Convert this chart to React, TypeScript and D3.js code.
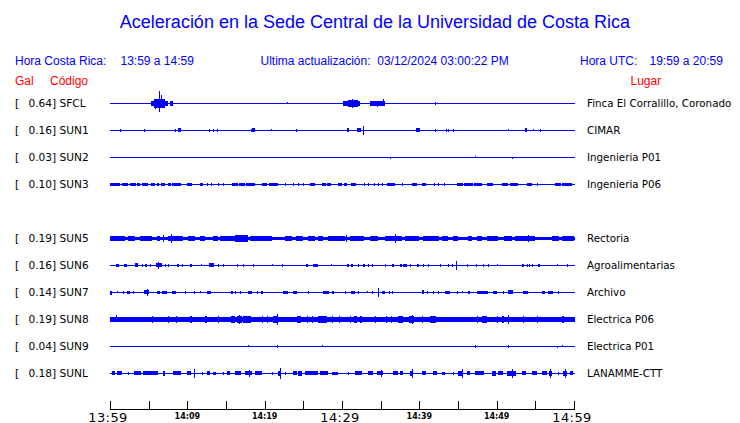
import React from "react";
import * as d3 from "d3";

// ---- data ----
const slots = ["SFCL", "SUN1", "SUN2", "SUN3", "SUN4", "SUN5", "SUN6", "SUN7", "SUN8", "SUN9", "SUNL"];
const codes = ["SFCL", "SUN1", "SUN2", "SUN3", "SUN5", "SUN6", "SUN7", "SUN8", "SUN9", "SUNL"];
const peakGal = [0.64, 0.16, 0.03, 0.1, 0.19, 0.16, 0.14, 0.19, 0.04, 0.18];
const places = [
  "Finca El Corralillo, Coronado",
  "CIMAR",
  "Ingenieria P01",
  "Ingenieria P06",
  "Rectoria",
  "Agroalimentarias",
  "Archivo",
  "Electrica P06",
  "Electrica P01",
  "LANAMME-CTT",
];
// background noise half-amplitude (fraction of trace full scale)
const noiseLevel = [0, 0, 0, 0, 0.1, 0, 0, 0.17, 0, 0];

const tickMinutes = [0, 5, 10, 15, 20, 25, 30, 35, 40, 45, 50, 55, 60];
const labelMinutes = [0, 10, 20, 30, 40, 50, 60];
const labelTexts = ["13:59", "14:09", "14:19", "14:29", "14:39", "14:49", "14:59"];
const bigLabels = ["13:59", "14:29", "14:59"];

// events: [start minute, end minute, up amplitude, down amplitude]
const sfclEvents = [
  [5.3, 5.65, 0.14], [5.65, 7.11, 0.33], [5.86, 5.95, 0.33, 0.42], [6.38, 6.45, 1.0, 0.7],
  [6.59, 6.66, 0.64, 0.33], [7.11, 7.54, 0.13], [7.8, 8.15, 0.17], [22.93, 23.0, 0.08, 0],
  [30.13, 32.37, 0.2], [30.82, 32.11, 0.28], [31.25, 31.35, 0.36], [33.62, 35.56, 0.15],
  [34.57, 34.65, 0.2, 0.28], [35.34, 35.42, 0.36, 0.13], [42.07, 42.14, 0.12],
];
const sun1Events = [
  [1.33, 1.43, 0.08], [4.44, 4.54, 0.08], [8.44, 8.54, 0.08], [8.8, 9.15, 0.17, 0.08], [12.84, 12.94, 0.08],
  [13.36, 13.46, 0.08], [13.87, 13.97, 0.08], [18.19, 18.29, 0.08], [18.4, 18.75, 0.17, 0.08], [20.78, 20.88, 0.08, 0],
  [24.01, 24.11, 0.08], [30.6, 30.95, 0.17, 0.08], [32.0, 32.4, 0.17, 0.08], [32.75, 32.85, 0.3], [39.6, 40.1, 0.17, 0.08],
  [42.03, 42.13, 0.08], [43.49, 43.59, 0.08], [43.75, 43.85, 0.08], [44.39, 44.49, 0.08], [51.5, 51.6, 0.08, 0],
  [53.6, 53.95, 0.17, 0.08], [54.74, 54.84, 0.08, 0], [55.64, 55.74, 0.08],
];
const sun2Events = [[36.25, 36.35, 0, 0.08], [47.24, 47.34, 0.08, 0], [52.02, 52.12, 0, 0.08]];
const sun3Events = [
  [0, 1.29, 0.08], [1.51, 2.28, 0.08], [2.58, 3.32, 0.08], [3.53, 3.88, 0.08], [4.09, 4.87, 0.08],
  [5.26, 5.82, 0.08], [6.03, 6.33, 0.08], [6.59, 7.11, 0.08], [7.54, 7.84, 0.08], [7.97, 9.18, 0.08],
  [9.91, 10.56, 0.08], [11.64, 12.07, 0.08], [12.6, 12.7, 0.08], [13.1, 13.2, 0.08], [14.0, 14.1, 0.08],
  [14.6, 14.7, 0.08], [15.73, 16.5, 0.08], [16.7, 17.4, 0.08], [17.6, 18.75, 0.08], [19.61, 20.3, 0.08],
  [20.5, 21.77, 0.08], [22.6, 22.7, 0.08], [23.7, 23.8, 0.08], [24.3, 24.4, 0.08], [25.0, 25.1, 0.08],
  [25.9, 26.5, 0.08], [27.4, 27.9, 0.08], [28.1, 28.6, 0.08], [29.5, 30.0, 0.08], [30.2, 30.6, 0.08],
  [31.2, 31.8, 0.08], [32.8, 32.9, 0.08], [33.4, 33.5, 0.08], [34.1, 34.2, 0.08], [34.6, 34.7, 0.08],
  [35.2, 35.3, 0.08], [35.78, 36.85, 0.08], [37.8, 37.9, 0.08], [39.0, 39.7, 0.08], [40.3, 40.9, 0.08],
  [41.9, 42.0, 0.08], [42.4, 42.5, 0.08], [43.2, 43.3, 0.08], [44.83, 45.6, 0.08], [45.8, 46.9, 0.08],
  [47.1, 48.06, 0.08], [48.71, 49.57, 0.08], [50.65, 51.5, 0.08], [51.7, 52.8, 0.08], [53.88, 54.53, 0.08],
  [55.2, 55.3, 0.08], [57.54, 58.3, 0.08], [58.5, 59.7, 0.08],
];
const sun5Events = [
  [0, 1.94, 0.2], [2.37, 3.23, 0.2], [3.88, 5.38, 0.2], [6.03, 6.46, 0.2], [6.89, 6.99, 0.25],
  [7.54, 9.48, 0.2], [7.84, 7.94, 0.3], [10.13, 10.99, 0.2], [11.63, 12.28, 0.2], [13.36, 14.0, 0.2],
  [14.22, 16.16, 0.2], [16.16, 17.88, 0.22], [18.1, 20.9, 0.2], [22.6, 23.5, 0.2], [24.1, 25.0, 0.2],
  [25.6, 26.5, 0.2], [26.9, 27.6, 0.2], [28.2, 30.4, 0.2], [30.5, 30.6, 0.26], [31.0, 32.8, 0.2],
  [33.6, 34.7, 0.2], [35.6, 37.7, 0.2], [36.85, 36.95, 0.34], [38.1, 39.9, 0.2], [40.5, 42.5, 0.2],
  [42.9, 43.7, 0.2], [44.4, 45.0, 0.2], [46.3, 46.8, 0.2], [47.4, 48.1, 0.2], [48.7, 50.2, 0.2],
  [50.9, 52.0, 0.2], [52.4, 55.0, 0.2], [54.1, 54.2, 0.28], [57.1, 58.0, 0.2], [58.4, 60, 0.2],
];
const sun6Events = [
  [0.77, 1.15, 0.08], [1.81, 2.15, 0.08], [3.23, 3.6, 0.17, 0.08], [4.09, 4.19, 0.08], [4.52, 4.75, 0.08],
  [5.17, 5.27, 0.08], [5.94, 6.68, 0.17, 0.08], [6.2, 6.3, 0.25], [7.11, 7.21, 0.08], [7.54, 7.64, 0.08],
  [8.7, 8.95, 0.08], [9.26, 9.4, 0.08], [10.34, 10.6, 0.08], [11.76, 11.86, 0.08, 0], [12.84, 13.44, 0.17, 0.08],
  [13.92, 14.02, 0.08], [14.65, 14.75, 0.08], [16.37, 16.47, 0.08], [17.24, 17.34, 0.08], [18.44, 18.54, 0.08],
  [20.9, 21.0, 0.08, 0], [22.28, 22.38, 0.08], [25.34, 25.65, 0.08], [26.29, 26.85, 0.08], [28.53, 28.63, 0.08, 0],
  [30.6, 30.9, 0.08], [31.1, 31.46, 0.08], [32.11, 32.21, 0.08], [32.75, 33.0, 0.08], [33.3, 33.4, 0.08],
  [33.83, 33.93, 0.08], [35.55, 35.65, 0.08], [36.5, 36.75, 0.08], [37.49, 37.7, 0.08], [37.9, 38.36, 0.08],
  [38.79, 38.89, 0.08], [39.74, 40.0, 0.08], [40.51, 40.61, 0.08], [41.16, 41.26, 0.08], [42.67, 42.77, 0.08],
  [43.74, 43.84, 0.08], [44.17, 44.27, 0.08], [44.7, 44.85, 0.33], [46.2, 46.3, 0.08], [47.28, 47.38, 0.08],
  [48.27, 48.37, 0.08], [48.92, 49.02, 0.08], [50.0, 50.1, 0.08, 0], [53.23, 53.5, 0.08], [53.87, 54.0, 0.08],
  [54.2, 54.3, 0.08], [54.52, 54.62, 0.08], [55.29, 55.6, 0.08], [57.75, 57.85, 0.08, 0], [59.05, 59.15, 0.08],
];
const sun7Events = [
  [0, 0.3, 0.08, 0.17], [0.86, 0.96, 0.08, 0], [1.72, 1.82, 0.08], [2.24, 2.58, 0.08], [2.93, 3.03, 0.08],
  [4.44, 5.08, 0.17, 0.08], [4.75, 4.85, 0.25], [6.03, 6.46, 0.08], [6.76, 7.32, 0.08], [7.97, 8.49, 0.08],
  [9.69, 9.79, 0.08], [10.86, 10.96, 0.08], [11.63, 11.73, 0.08, 0], [12.5, 13.01, 0.08], [15.6, 15.94, 0.08],
  [16.16, 16.26, 0.08], [16.81, 16.91, 0.08], [17.88, 18.31, 0.08], [18.96, 19.06, 0.08], [19.48, 19.82, 0.08],
  [22.41, 22.97, 0.08], [23.7, 24.13, 0.08], [25.64, 25.74, 0.08], [27.58, 28.31, 0.08], [28.66, 29.0, 0.08],
  [30.38, 30.48, 0.08], [31.16, 31.68, 0.08], [32.11, 32.21, 0.08], [33.19, 33.29, 0.08, 0], [33.83, 33.93, 0.08],
  [34.61, 34.71, 0.3], [35.12, 35.55, 0.08], [36.12, 36.22, 0.08], [36.5, 36.6, 0.08], [40.3, 40.64, 0.17, 0.08],
  [40.94, 41.16, 0.08], [41.8, 41.9, 0.08], [42.45, 42.55, 0.08], [43.31, 43.96, 0.08], [44.82, 45.04, 0.08],
  [45.47, 45.57, 0.08, 0], [46.33, 46.55, 0.08], [47.41, 48.92, 0.08], [49.56, 50.0, 0.08], [50.86, 50.96, 0.08],
  [51.5, 52.15, 0.17, 0.08], [53.44, 54.09, 0.08], [55.8, 56.24, 0.08], [56.67, 57.32, 0.08], [57.88, 57.98, 0.08],
];
const sun8Events = [
  [0.73, 0.83, 0.3, 0.17], [5.47, 5.57, 0.25], [7.54, 7.64, 0.25], [8.53, 8.63, 0.25], [10.34, 10.64, 0.25],
  [12.28, 12.5, 0.25], [14.0, 14.1, 0.25], [15.64, 16.16, 0.25], [16.37, 17.02, 0.25], [16.72, 16.82, 0.36],
  [17.24, 18.23, 0.25], [19.69, 19.79, 0.25], [20.34, 20.44, 0.25], [21.12, 21.76, 0.25], [21.63, 21.73, 0.38],
  [24.13, 24.69, 0.25], [25.43, 25.53, 0.25], [26.16, 26.26, 0.25], [26.94, 28.01, 0.25], [28.75, 28.85, 0.25],
  [29.65, 29.75, 0.25], [31.03, 31.13, 0.25], [31.59, 31.98, 0.25], [32.32, 32.62, 0.25], [34.26, 34.36, 0.25],
  [35.64, 35.74, 0.25], [36.29, 36.39, 0.25], [37.28, 37.93, 0.25], [38.66, 39.35, 0.25], [39.09, 39.19, 0.36],
  [40.3, 40.4, 0.25], [41.37, 42.11, 0.25], [47.5, 47.6, 0.25], [48.06, 48.79, 0.25], [50.0, 50.1, 0.25],
  [50.64, 50.94, 0.25], [51.5, 51.6, 0.3], [53.36, 53.46, 0.25], [55.25, 55.35, 0.25], [58.48, 58.74, 0.25],
];
const sun9Events = [
  [17.8, 17.9, 0.08, 0], [21.63, 21.73, 0.08], [27.45, 27.55, 0.08, 0], [47.24, 47.34, 0.08],
  [51.5, 51.6, 0.08], [57.8, 57.9, 0, 0.08], [58.48, 58.58, 0.08, 0],
];
const sunlEvents = [
  [0.3, 0.64, 0.17, 0.08], [0.86, 1.51, 0.17, 0.08], [2.28, 2.38, 0.08], [3.14, 4.0, 0.17, 0.08], [4.31, 6.25, 0.17, 0.08],
  [6.89, 7.11, 0.17], [8.19, 9.18, 0.17, 0.08], [9.91, 10.47, 0.17, 0.08], [10.9, 11.0, 0.33], [11.85, 11.95, 0.08],
  [12.58, 12.93, 0.17, 0.08], [13.36, 13.7, 0.08], [14.65, 14.75, 0.08], [15.08, 15.51, 0.17, 0.08], [16.16, 16.94, 0.17, 0.08],
  [17.45, 18.31, 0.17, 0.08], [18.01, 18.11, 0.28], [18.75, 19.61, 0.17, 0.08], [20.9, 21.0, 0.08], [21.76, 22.11, 0.17],
  [21.98, 22.08, 0.38], [22.62, 22.72, 0.08], [23.7, 24.13, 0.17, 0.08], [24.35, 24.87, 0.17], [25.21, 26.94, 0.17, 0.08],
  [27.15, 28.14, 0.17, 0.08], [28.66, 29.52, 0.08], [30.81, 30.91, 0.08], [31.68, 32.54, 0.17, 0.08], [33.4, 34.05, 0.17, 0.08],
  [34.48, 35.34, 0.17, 0.08], [35.04, 35.14, 0.26], [36.63, 37.19, 0.17, 0.08], [37.49, 37.92, 0.17, 0.08], [38.79, 39.22, 0.17],
  [39.0, 39.1, 0.3], [40.3, 40.81, 0.17, 0.08], [41.8, 42.24, 0.17, 0.08], [42.88, 43.31, 0.08], [44.39, 44.49, 0.08],
  [45.04, 45.68, 0.17], [45.56, 45.66, 0.33], [46.11, 46.55, 0.17, 0.08], [47.19, 48.4, 0.17, 0.08], [49.35, 49.87, 0.17],
  [50.21, 50.86, 0.17, 0.08], [51.29, 52.45, 0.17], [51.93, 52.03, 0.33], [53.23, 53.74, 0.17, 0.08], [54.52, 55.16, 0.17, 0.08],
  [55.81, 56.46, 0.17, 0.08], [56.8, 57.11, 0.17], [56.95, 57.05, 0.33], [57.97, 58.07, 0.08], [58.62, 59.05, 0.17],
  [58.8, 58.9, 0.33], [59.48, 59.91, 0.17, 0.08],
];
const stationEvents = [
  sfclEvents, sun1Events, sun2Events, sun3Events, sun5Events,
  sun6Events, sun7Events, sun8Events, sun9Events, sunlEvents,
];

// ---- chart ----
const W = 740;
const H = 423;
const BLUE = "#0000ff";
const RED = "#ff0000";
const SANS = "'Liberation Sans', Arial, sans-serif";
const LABEL = "'DejaVu Sans', sans-serif";

export default function App() {
  const x = d3.scaleLinear().domain([0, 60]).range([110, 574]);
  const y = d3.scalePoint<string>().domain(slots).range([103, 373]);
  const amp = d3.scaleLinear().domain([0, 1]).range([0, 12]);
  const axisY = 409;

  return (
    <svg
      width={W}
      height={H}
      style={{ position: "absolute", left: 0, top: 0, background: "#fff" }}
      shapeRendering="crispEdges"
    >
      <rect x={0} y={0} width={W} height={H} fill="#fff" />
      <text x={375} y={28} textAnchor="middle" fill={BLUE} fontFamily={SANS} fontSize={18}>
        Aceleración en la Sede Central de la Universidad de Costa Rica
      </text>
      <g fontFamily={SANS} fontSize={12} fill={BLUE}>
        <text x={15} y={65}>Hora Costa Rica:</text>
        <text x={120.5} y={65}>13:59 a 14:59</text>
        <text x={260.5} y={65} style={{ whiteSpace: "pre" }}>
          {"Ultima actualización:  03/12/2024 03:00:22 PM"}
        </text>
        <text x={580} y={65}>Hora UTC:</text>
        <text x={649.5} y={65}>19:59 a 20:59</text>
      </g>
      <g fontFamily={SANS} fontSize={12} fill={RED}>
        <text x={15} y={85}>Gal</text>
        <text x={50} y={85}>Código</text>
        <text x={630.5} y={85}>Lugar</text>
      </g>

      {codes.map((code, i) => {
        const base = Math.round(y(code) as number);
        const noise = Math.round(amp(noiseLevel[i]));
        return (
          <g key={code}>
            <text x={15} y={base + 4} fontFamily={LABEL} fontSize={10.6} fill="#000">[</text>
            <text x={52} y={base + 4} textAnchor="end" fontFamily={LABEL} fontSize={10.6} fill="#000">
              {peakGal[i].toFixed(2)}
            </text>
            <text x={52} y={base + 4} fontFamily={LABEL} fontSize={10.6} fill="#000" style={{ whiteSpace: "pre" }}>
              {"] " + code}
            </text>
            <text x={587} y={base + 4} fontFamily={LABEL} fontSize={10.3} fill="#000">
              {places[i]}
            </text>
            <rect
              x={Math.round(x(0))}
              y={base - noise}
              width={Math.round(x(60)) - Math.round(x(0)) + 1}
              height={noise * 2 + 1}
              fill={BLUE}
            />
            {stationEvents[i].map((e, j) => {
              const x0 = Math.round(x(e[0]));
              const x1 = Math.max(x0 + 1, Math.round(x(e[1])));
              const up = Math.round(amp(e[2]));
              const down = Math.round(amp(e.length > 3 ? e[3] : e[2]));
              return (
                <rect key={j} x={x0} y={base - up} width={x1 - x0} height={up + down + 1} fill={BLUE} />
              );
            })}
          </g>
        );
      })}

      <g>
        <line x1={x(0)} x2={x(60) + 1} y1={axisY + 0.5} y2={axisY + 0.5} stroke="#000" />
        {tickMinutes.map((m) => (
          <line
            key={m}
            x1={Math.round(x(m)) + 0.5}
            x2={Math.round(x(m)) + 0.5}
            y1={axisY - 8}
            y2={axisY + 1}
            stroke="#000"
          />
        ))}
        {labelMinutes.map((m, i) => {
          const big = bigLabels.includes(labelTexts[i]);
          return (
            <text
              key={m}
              x={x(m) - (big ? 2 : 0)}
              y={big ? 421.5 : 418.7}
              textAnchor="middle"
              fontFamily={LABEL}
              fontSize={big ? 13 : 8}
              fontWeight={big ? "normal" : "bold"}
              letterSpacing={big ? 0.4 : 0}
              fill="#000"
            >
              {labelTexts[i]}
            </text>
          );
        })}
      </g>
    </svg>
  );
}
